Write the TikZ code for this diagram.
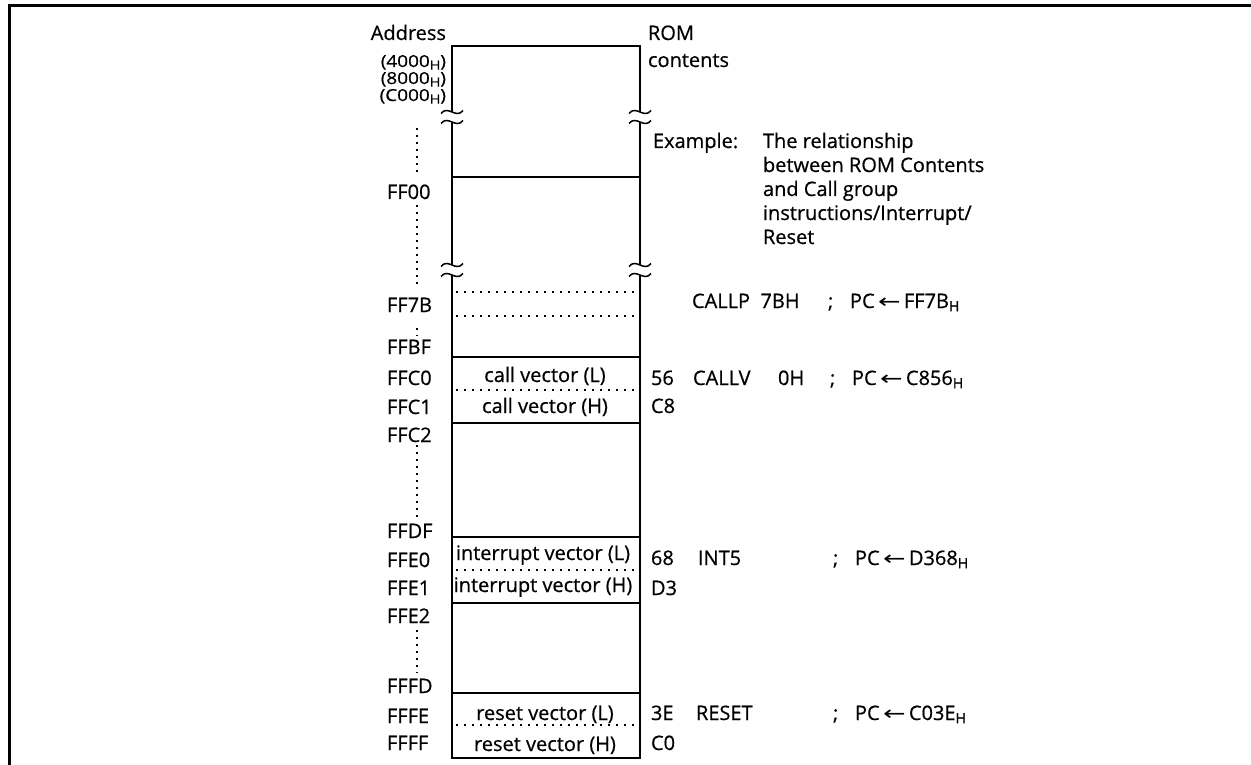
\documentclass[tikz,border=0pt]{standalone}
\usepackage{fontspec}
\setmainfont[FakeBold=0.6]{Open Sans}
\newfontfamily\dejavu{DejaVu Sans}
\usepackage{graphicx}
\newcommand{\hsub}[1]{\raisebox{-0.3ex}{\fontsize{14}{14}\selectfont #1}}
\newcommand{\ssub}[1]{\raisebox{-0.3ex}{\fontsize{12.5}{12.5}\selectfont #1}}
\newcommand{\larr}{\scalebox{1.35}[1]{\dejavu ←}}
\newcommand{\hexline}[1]{\scalebox{1.15}[1]{(#1\ssub{H})}}
\newcommand{\hexstack}{\vbox{\fontsize{16.5}{17}\selectfont\baselineskip=17pt\lineskiplimit=-100pt\lineskip=0pt
  \halign{\hfil##\cr \hexline{4000}\cr \hexline{8000}\cr \hexline{C000}\cr}}}
\begin{document}
\begin{tikzpicture}[x=1pt,y=-1pt,
  txt/.style={font=\fontsize{20}{24}\selectfont, inner sep=0pt, outer sep=0pt, anchor=base west},
  txr/.style={txt, anchor=base east},
  txc/.style={txt, anchor=base},
  boxline/.style={line width=1.7pt},
  dotrow/.style={line width=1.7pt, dash pattern=on 1.7pt off 6.3pt},
  dotcol/.style={line width=1.7pt, dash pattern=on 1.7pt off 5.3pt},
  frameline/.style={line width=3pt},
  wave/.style={line width=1.5pt}]
\useasboundingbox (0,0) rectangle (1251,765);
\draw[frameline] (9.5,766) -- (9.5,5.5) -- (1252,5.5);
% memory box
\draw[boxline] (452,112) -- (452,46) -- (640,46) -- (640,112);
\draw[boxline] (452,122) -- (452,265);
\draw[boxline] (640,122) -- (640,265);
\draw[boxline] (452,275) -- (452,758) -- (640,758) -- (640,275);
\foreach \yy in {177,357,423,537,603,693}
  \draw[boxline] (452,\yy) -- (640,\yy);
\foreach \yy in {292,316,390,570,725}
  \draw[dotrow] (456,\yy) -- (637,\yy);
% break marks
\foreach \xc in {452,640}
  \foreach \yy in {112,122,265,275}
    \draw[wave] (\xc-11,\yy+1.5) .. controls (\xc-4,\yy-7.5) and (\xc+4,\yy+7.5) .. (\xc+11,\yy-1.5);
% address column dots
\draw[dotcol] (417,128) -- (417,176);
\draw[dotcol] (417,205) -- (417,287);
\draw[dotcol] (417,328) -- (417,336);
\draw[dotcol] (417,445) -- (417,517);
\draw[dotcol] (417,630) -- (417,673);
% headers
\node[txr] (addr) at (446,40) {Address};
\node[txr] (ahex) at (446,101) {\hexstack};
\node[txt] (rom) at (648,40) {ROM};
\node[txt] (cont) at (648,67) {contents};
% addresses
\node[txt] (f00) at (387,199) {FF00};
\node[txt] (f7b) at (387,312) {FF7B};
\node[txt] (fbf) at (387,354) {FFBF};
\node[txt] (fc0) at (387,385) {FFC0};
\node[txt] (fc1) at (387,414) {FFC1};
\node[txt] (fc2) at (387,442) {FFC2};
\node[txt] (fdf) at (387,538) {FFDF};
\node[txt] (fe0) at (387,567) {FFE0};
\node[txt] (fe1) at (387,595) {FFE1};
\node[txt] (fe2) at (387,623) {FFE2};
\node[txt] (ffd) at (387,693) {FFFD};
\node[txt] (ffe) at (387,723) {FFFE};
\node[txt] (fff) at (387,750) {FFFF};
% box contents
\node[txc] (cvl) at (545,382) {call vector (L)};
\node[txc] (cvh) at (545,413) {call vector (H)};
\node[txc] (ivl) at (543,560) {interrupt vector (L)};
\node[txc] (ivh) at (543,592) {interrupt vector (H)};
\node[txc] (rvl) at (545,720) {reset vector (L)};
\node[txc] (rvh) at (545,751) {reset vector (H)};
% example text
\node[txt] (ex) at (653,148) {Example:};
\node[txt] (ex1) at (763,148) {The relationship};
\node[txt] (ex2) at (763,172) {between ROM Contents};
\node[txt] (ex3) at (763,196) {and Call group};
\node[txt] (ex4) at (763,220) {instructions/Interrupt/};
\node[txt] (ex5) at (763,244) {Reset};
% CALLP
\node[txt] (cp) at (692,308) {CALLP\ \ 7BH};
\node[txt] (cps) at (828,308) {;};
\node[txt] (cppc) at (850,308) {PC\,\larr\,FF7B\hsub{H}};
% CALLV
\node[txt] (v56) at (651,385) {56};
\node[txt] (cv) at (693,385) {CALLV};
\node[txt] (cv0) at (778,385) {0H};
\node[txt] (cvs) at (830,385) {;};
\node[txt] (cvpc) at (852,385) {PC\,\larr\,C856\hsub{H}};
\node[txt] (vc8) at (651,413) {C8};
% INT5
\node[txt] (v68) at (651,565) {68};
\node[txt] (it) at (698,565) {INT5};
\node[txt] (its) at (833,565) {;};
\node[txt] (itpc) at (855,565) {PC\,\larr\,D368\hsub{H}};
\node[txt] (vd3) at (651,595) {D3};
% RESET
\node[txt] (v3e) at (651,720) {3E};
\node[txt] (rs) at (696,720) {RESET};
\node[txt] (rss) at (833,720) {;};
\node[txt] (rspc) at (855,720) {PC\,\larr\,C03E\hsub{H}};
\node[txt] (vc0) at (651,750) {C0};
\end{tikzpicture}
\end{document}
